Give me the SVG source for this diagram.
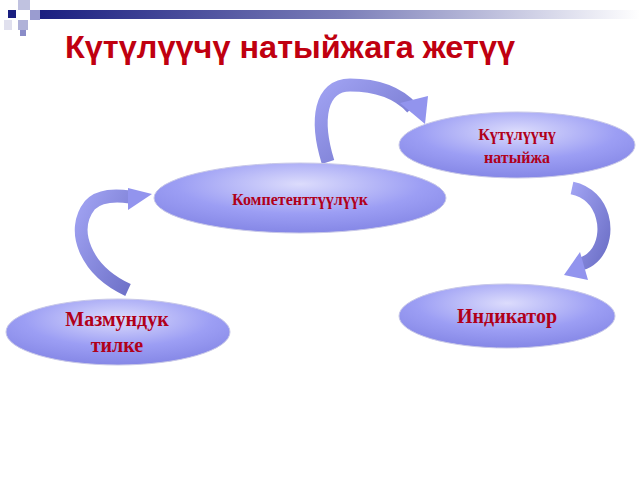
<svg xmlns="http://www.w3.org/2000/svg" width="640" height="480" viewBox="0 0 640 480">
<defs>
<linearGradient id="bar" x1="0" x2="1" y1="0" y2="0"><stop offset="0" stop-color="#1a1f80"/><stop offset="0.5" stop-color="#7a7db8"/><stop offset="1" stop-color="#ffffff"/></linearGradient>
<radialGradient id="ell" cx="0.5" cy="0.3" r="0.7"><stop offset="0" stop-color="#dcdcfc"/><stop offset="0.6" stop-color="#9c9ef4"/><stop offset="1" stop-color="#8587e6"/></radialGradient>
<linearGradient id="arr" x1="0" x2="1" y1="0" y2="1"><stop offset="0" stop-color="#a0a2f2"/><stop offset="1" stop-color="#6e71c8"/></linearGradient>
</defs>
<style>
.n{fill:url(#ell);stroke:#c8c8e8;stroke-width:1}
.t{font-family:"Liberation Serif",serif;font-weight:bold;fill:#b0001a;text-anchor:middle}
.c{fill:none;stroke:url(#arr);stroke-width:13}
.h{fill:#9294ee}
</style>
<rect width="640" height="480" fill="#fff"/>
<g id="header">
<rect x="40" y="10" width="600" height="9" fill="url(#bar)"/>
<rect x="8" y="10" width="8" height="8" fill="#1a1f80"/>
<rect x="18" y="0" width="12" height="10" fill="#c0c2e0"/>
<rect x="30" y="10" width="10" height="10" fill="#9a9cd0"/>
<rect x="18" y="20" width="10" height="10" fill="#b0b2d8"/>
<rect x="20" y="30" width="6" height="6" fill="#8a8cc8"/>
<rect x="4" y="20" width="8" height="10" fill="#e0e0ee"/>
</g>
<text x="65" y="58" textLength="450" lengthAdjust="spacingAndGlyphs" style="font-family:'Liberation Sans',sans-serif;font-weight:bold;font-size:31px;fill:#c00010">Күтүлүүчү натыйжага жетүү</text>
<g id="connectors">
<path class="c" d="M328,162 C315,120 320,85 350,85 C380,85 400,95 412,108"/>
<polygon class="h" points="400,103 428,96 425,124"/>
<path class="c" d="M572,188 C605,195 612,235 595,255 C588,263 580,265 575,264"/>
<polygon class="h" points="580,252 564,275 588,280"/>
<path class="c" d="M128,290 C85,270 70,230 90,205 C100,195 115,195 130,197"/>
<polygon class="h" points="128,188 152,194 128,210"/>
</g>
<g id="n1"><ellipse class="n" cx="517" cy="145" rx="118" ry="33"/><text class="t" x="517" y="140" font-size="16">Күтүлүүчү</text><text class="t" x="517" y="163" font-size="16">натыйжа</text></g>
<g id="n2"><ellipse class="n" cx="300" cy="198" rx="146" ry="35"/><text class="t" x="300" y="205" font-size="16">Компетенттүүлүүк</text></g>
<g id="n3"><ellipse class="n" cx="507" cy="316" rx="108" ry="32"/><text class="t" x="507" y="323" font-size="20">Индикатор</text></g>
<g id="n4"><ellipse class="n" cx="118" cy="332" rx="112" ry="33"/><text class="t" x="117" y="326" font-size="20">Мазмундук</text><text class="t" x="117" y="352" font-size="20">тилке</text></g>
</svg>
